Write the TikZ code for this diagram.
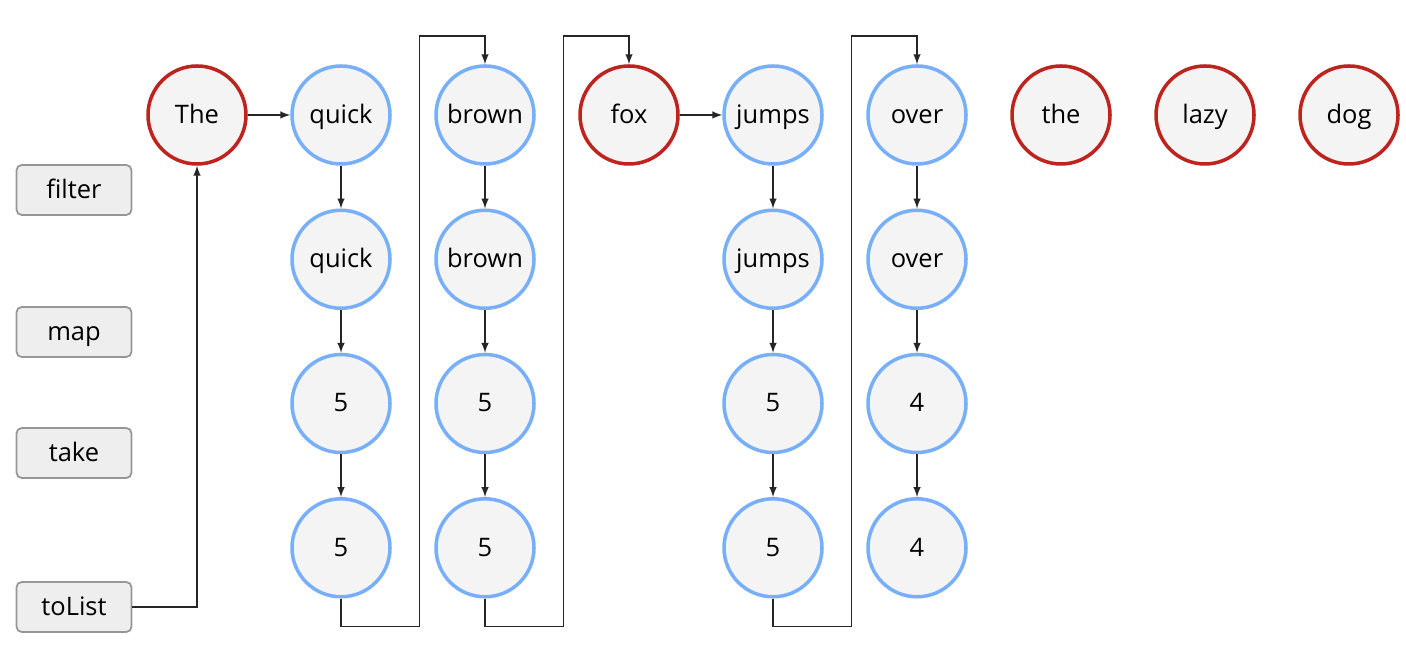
\documentclass[tikz,border=0pt]{standalone}
\usepackage{fontspec}
\setmainfont{Open Sans}
\usetikzlibrary{shapes,arrows,positioning}

\definecolor{tokred}{RGB}{190,35,30}
\definecolor{tokblue}{RGB}{120,175,250}
\definecolor{tokfill}{RGB}{244,244,244}
\definecolor{opfill}{RGB}{238,238,238}
\definecolor{opline}{RGB}{150,150,150}

\begin{document}
\begin{tikzpicture}[
    tok/.style={circle,draw,line width=2pt,fill=tokfill,minimum size=1.96cm,inner sep=0pt,
      text height=1.9ex,text depth=0.1ex,font=\fontsize{14.5}{16}\selectfont},
    hit/.style={tok,draw=tokred},
    pass/.style={tok,draw=tokblue},
    op/.style={draw=opline,fill=opfill,rounded corners=3pt,line width=1pt,minimum width=2.3cm,minimum height=1cm,
      inner sep=0pt,text height=1.9ex,text depth=0.1ex,font=\fontsize{14.5}{16}\selectfont},
    link/.style={-latex,line width=0.95pt,draw=black!85}
  ]
  \useasboundingbox (0,0) rectangle (28.12,13.2);
  \coordinate (top) at (0,12.48);

  % operations
  \foreach \n/\y in {filter/9.4,map/6.56,take/4.14,toList/1.06}
    \node[op] (\n) at (1.48,\y) {\n};

  % source words
  \foreach \i/\w/\s in {1/The/hit,2/quick/pass,3/brown/pass,4/fox/hit,5/jumps/pass,6/over/pass,7/the/hit,8/lazy/hit,9/dog/hit}
    \node[\s] (t\i-1) at ({3.94+2.88*(\i-1)},10.9) {\w};

  % words that go down the pipeline
  \foreach \i/\w/\n in {2/quick/5,3/brown/5,5/jumps/5,6/over/4} {
    \node[pass,below=0.855cm of t\i-1] (t\i-2) {\w};
    \node[pass,below=0.855cm of t\i-2] (t\i-3) {\n};
    \node[pass,below=0.855cm of t\i-3] (t\i-4) {\n};
    \draw[link] (t\i-1) -- (t\i-2);
    \draw[link] (t\i-2) -- (t\i-3);
    \draw[link] (t\i-3) -- (t\i-4);
  }

  \draw[link] (toList.east) -| (t1-1.south);
  \draw[link] (t1-1) -- (t2-1);
  \draw[link] (t4-1) -- (t5-1);

  % back to the next word
  \foreach \a/\b in {2/3,3/4,5/6}
    \draw[link] (t\a-4.south) -- ++(0,-0.56) -- ++(1.57,0) |- (t\b-1.north |- top) -- (t\b-1.north);
\end{tikzpicture}
\end{document}
